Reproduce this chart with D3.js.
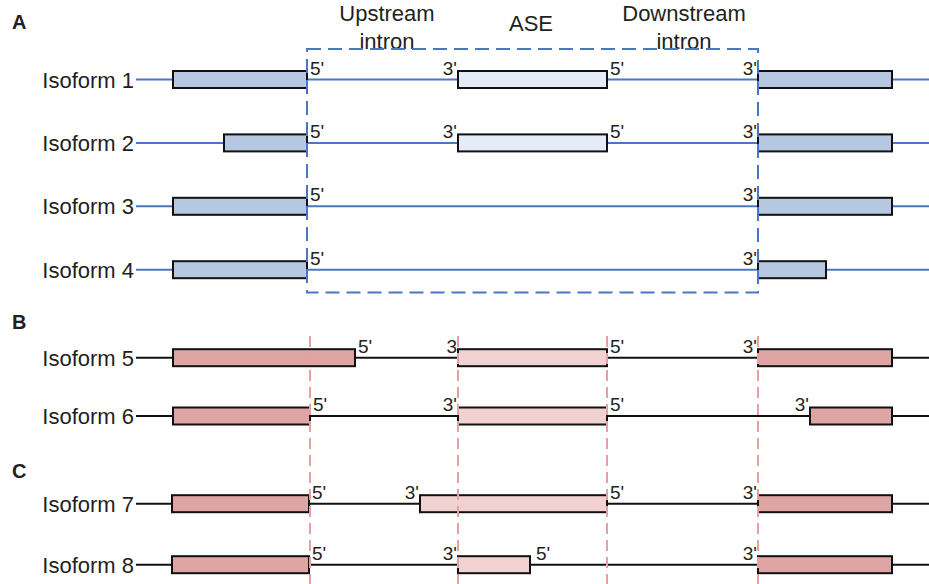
<!DOCTYPE html>
<html>
<head>
<meta charset="utf-8">
<script src="https://cdn.jsdelivr.net/npm/d3@7"></script>
<style>
  html, body { margin: 0; padding: 0; background: #fff; }
  svg { display: block; font-family: "Liberation Sans", Arial, sans-serif; }
</style>
</head>
<body>
<svg id="chart" width="929" height="584"></svg>
<script>
// Panels and the isoforms shown in each
const panels = ["A", "B", "C"];
const panelIsoforms = [
  ["Isoform 1", "Isoform 2", "Isoform 3", "Isoform 4"],
  ["Isoform 5", "Isoform 6"],
  ["Isoform 7", "Isoform 8"]
];

// Exons per isoform: [start, end, type]  (type "c" = constitutive, "a" = alternative segment)
const exons1 = [[173, 307, "c"], [458, 607, "a"], [758, 892, "c"]];
const exons2 = [[224, 307, "c"], [458, 607, "a"], [758, 892, "c"]];
const exons3 = [[173, 307, "c"], [758, 892, "c"]];
const exons4 = [[173, 307, "c"], [758, 826, "c"]];
const exons5 = [[173, 355, "c"], [458, 607, "a"], [758, 892, "c"]];
const exons6 = [[173, 310, "c"], [458, 607, "a"], [810, 892, "c"]];
const exons7 = [[172, 309, "c"], [420, 607, "a"], [758, 892, "c"]];
const exons8 = [[172, 309, "c"], [458, 530, "a"], [758, 892, "c"]];
const exonSets = [exons1, exons2, exons3, exons4, exons5, exons6, exons7, exons8];

// Splice-site labels per isoform: [position, label]
const sites1 = [[307, "5'"], [458, "3'"], [607, "5'"], [758, "3'"]];
const sites2 = [[307, "5'"], [458, "3'"], [607, "5'"], [758, "3'"]];
const sites3 = [[307, "5'"], [758, "3'"]];
const sites4 = [[307, "5'"], [758, "3'"]];
const sites5 = [[355, "5'"], [458, "3"], [607, "5'"], [758, "3'"]];
const sites6 = [[310, "5'"], [458, "3'"], [607, "5'"], [810, "3'"]];
const sites7 = [[309, "5'"], [420, "3'"], [607, "5'"], [758, "3'"]];
const sites8 = [[309, "5'"], [458, "3'"], [533, "5'"], [758, "3'"]];
const siteSets = [sites1, sites2, sites3, sites4, sites5, sites6, sites7, sites8];

// Region headings over panel A
const regionNames = [["Upstream", "intron"], ["ASE"], ["Downstream", "intron"]];
const regionCentres = [387, 531, 684];

// Highlighted event region (panel A) and reference splice sites (panels B, C)
const eventRegion = [307, 758];
const refSites = [310, 458, 607, 758];

const svg = d3.select("#chart");
const W = 929, H = 584;

const x = d3.scaleLinear().domain([0, W]).range([0, W]);

const rowScales = [
  d3.scalePoint().domain(panelIsoforms[0]).range([79.5, 269.7]),
  d3.scalePoint().domain(panelIsoforms[1]).range([357.7, 416]),
  d3.scalePoint().domain(panelIsoforms[2]).range([503.7, 564.7])
];
const panelLetterY = [29, 329, 478];

const theme = [
  { line: "#4a76c2", exon: "#b6c8e1", alt: "#e3ecf7" },
  { line: "#111", exon: "#dfa5a4", alt: "#f1d1d1" },
  { line: "#111", exon: "#dfa5a4", alt: "#f1d1d1" }
];

const ink = "#231f20";
const lineStart = 136;
const exonH = 17;

// Region headings
const heads = svg.append("g").attr("fill", ink).attr("font-size", 22).attr("text-anchor", "middle");
regionNames.forEach((lines, i) => {
  const t = heads.append("text").attr("x", x(regionCentres[i]));
  if (lines.length === 1) {
    t.attr("y", 31).text(lines[0]);
  } else {
    t.append("tspan").attr("x", x(regionCentres[i])).attr("y", 21).text(lines[0]);
    t.append("tspan").attr("x", x(regionCentres[i])).attr("y", 49).text(lines[1]);
  }
});

let k = 0;
panels.forEach((p, pi) => {
  const y = rowScales[pi];
  const th = theme[pi];
  const g = svg.append("g");

  g.append("text")
    .attr("x", 12).attr("y", panelLetterY[pi])
    .attr("font-size", 20).attr("font-weight", "bold").attr("fill", ink)
    .text(p);

  panelIsoforms[pi].forEach(name => {
    const cy = y(name);
    const ex = exonSets[k];
    const st = siteSets[k];
    k++;

    g.append("text")
      .attr("x", 134).attr("y", cy + 8)
      .attr("text-anchor", "end").attr("font-size", 22).attr("fill", ink)
      .text(name);

    g.append("line")
      .attr("x1", x(lineStart)).attr("x2", x(W))
      .attr("y1", cy).attr("y2", cy)
      .attr("stroke", th.line).attr("stroke-width", 2);

    g.selectAll(null).data(ex).join("rect")
      .attr("x", d => x(d[0]))
      .attr("y", cy - exonH / 2)
      .attr("width", d => x(d[1]) - x(d[0]))
      .attr("height", exonH)
      .attr("fill", d => d[2] === "a" ? th.alt : th.exon)
      .attr("stroke", "#111").attr("stroke-width", 2);

    g.selectAll(null).data(st).join("text")
      .attr("x", d => d[1].startsWith("5") ? x(d[0]) + 3 : x(d[0]) - 1)
      .attr("y", cy - 5)
      .attr("text-anchor", d => d[1].startsWith("5") ? "start" : "end")
      .attr("font-size", 19).attr("fill", ink)
      .text(d => d[1]);
  });
});

// Dashed event box over panel A
svg.append("rect")
  .attr("x", x(eventRegion[0])).attr("y", 49)
  .attr("width", x(eventRegion[1]) - x(eventRegion[0]))
  .attr("height", 243.5)
  .attr("fill", "none").attr("stroke", "#4a76c2").attr("stroke-width", 2)
  .attr("stroke-dasharray", "14,7");

// Reference splice-site guides for panels B and C
svg.selectAll(null).data(refSites).join("line")
  .attr("x1", d => x(d)).attr("x2", d => x(d))
  .attr("y1", 336).attr("y2", H)
  .attr("stroke", "#e3a1a3").attr("stroke-width", 2)
  .attr("stroke-dasharray", "11,6");
</script>
</body>
</html>
